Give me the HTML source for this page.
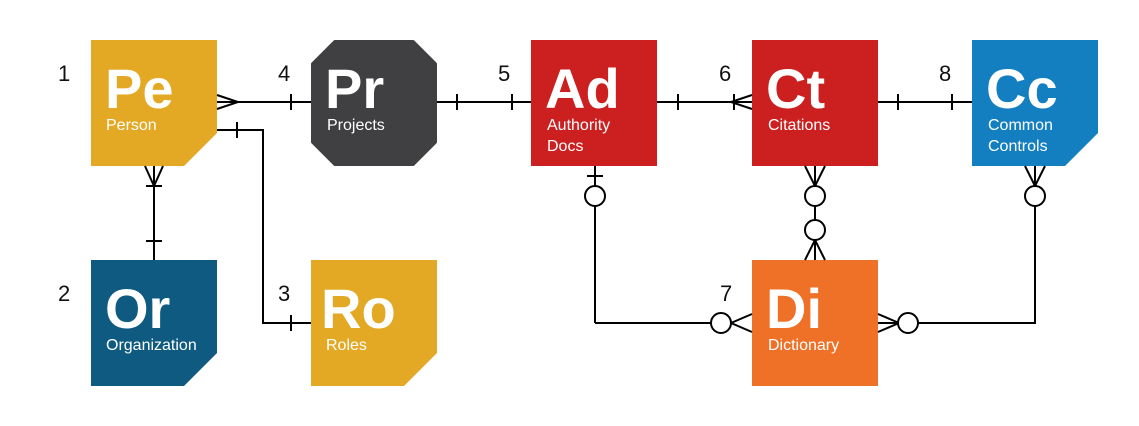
<!DOCTYPE html>
<html><head><style>body{margin:0;background:#fff}svg{display:block}</style></head><body>
<svg width="1139" height="426" viewBox="0 0 1139 426" xmlns="http://www.w3.org/2000/svg" font-family="Liberation Sans, sans-serif">
<g fill="#e3a925"><path d="M91 40H217V133L184 166H91Z"/><path d="M311 260H437V353L404 386H311Z"/></g>
<path d="M91 260H217V353L184 386H91Z" fill="#0f5a80"/>
<path d="M972 40H1098V133L1065 166H972Z" fill="#137fc0"/>
<path d="M335 42H413L435 64V142L413 164H335L313 142V64Z" fill="#404042" stroke="#404042" stroke-width="4" stroke-linejoin="round"/>
<rect x="531" y="40" width="126" height="126" fill="#cc1f1f"/>
<rect x="752" y="40" width="126" height="126" fill="#cc1f1f"/>
<rect x="752" y="260" width="126" height="126" fill="#ef7127"/>
<g fill="#fff" font-weight="bold" font-size="56">
<text x="105" y="108">Pe</text><text x="325" y="108">Pr</text><text x="545" y="108">Ad</text><text x="766" y="108">Ct</text><text x="986" y="108">Cc</text>
<text x="105" y="328">Or</text><text x="321" y="328">Ro</text><text x="766" y="328">Di</text></g>
<g fill="#fff" font-size="16">
<text x="106" y="130">Person</text><text x="327" y="130">Projects</text><text x="547" y="130">Authority</text><text x="547" y="151">Docs</text>
<text x="768" y="130">Citations</text><text x="988" y="130">Common</text><text x="988" y="151">Controls</text>
<text x="106" y="350">Organization</text><text x="326" y="350">Roles</text><text x="768" y="350">Dictionary</text></g>
<g font-size="22" fill="#111"><text x="58" y="81">1</text><text x="58" y="301">2</text><text x="278" y="301">3</text><text x="278" y="81">4</text><text x="498" y="81">5</text><text x="719" y="81">6</text><text x="939" y="81">8</text><text x="720" y="301">7</text></g>
<g stroke="#000" stroke-width="2" fill="none">
<path d="M217 102H311M217 95L238 102L217 109M291 94V110"/>
<path d="M217 130H263V323H311M237 122V138M291 315V331"/>
<path d="M154 166V260M145 166L154 186L163 166M146 186H162M146 241H162"/>
<path d="M437 102H531M457 94V110M512 94V110"/>
<path d="M657 102H752M678 94V110M752 95L731 102L752 109M734 94V110"/>
<path d="M878 102H972M898 94V110M952 94V110"/>
<path d="M595 166V313M595 323H711M587 176H603M752 314L731 323L752 332"/>
<circle cx="595" cy="196" r="10" fill="#fff"/>
<path d="M595 206V323"/>
<circle cx="721" cy="323" r="10" fill="#fff"/>
<path d="M815 166V260M805 166L815 186L825 166M805 260L815 240L825 260"/>
<circle cx="815" cy="196" r="10" fill="#fff"/><circle cx="815" cy="230" r="10" fill="#fff"/>
<path d="M878 323H1035V166M878 314L899 323L878 332M1025 166L1035 186L1045 166"/>
<circle cx="908" cy="323" r="10" fill="#fff"/><circle cx="1035" cy="196" r="10" fill="#fff"/>
</g>
</svg>
</body></html>
